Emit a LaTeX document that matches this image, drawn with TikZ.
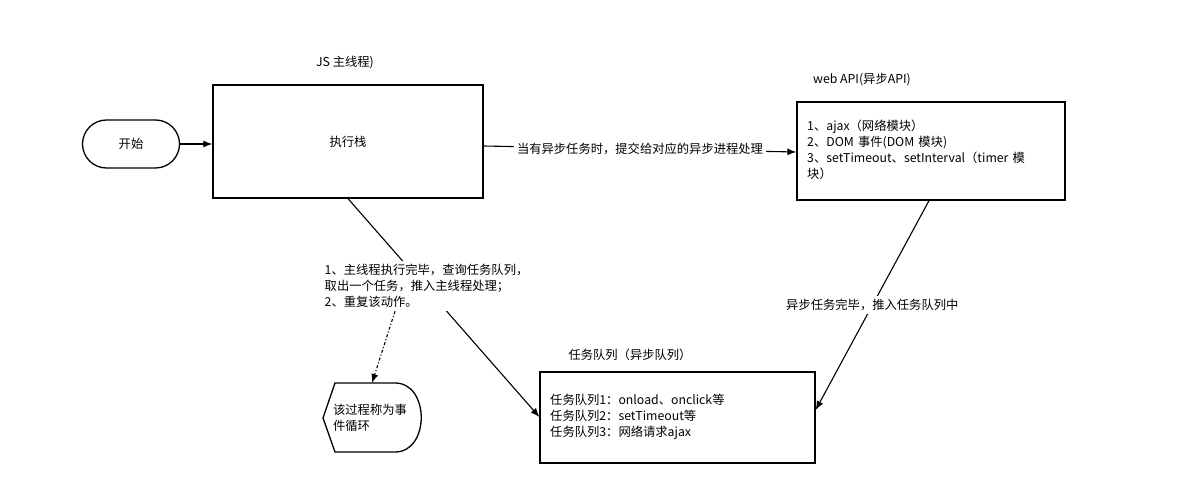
\documentclass[tikz,border=0pt]{standalone}
\usepackage{fontspec}
\setmainfont{Noto Sans CJK SC}
\usetikzlibrary{arrows.meta}
\begin{document}
\begin{tikzpicture}[x=1pt,y=-1pt,
  box/.style={draw,line width=1.3pt},
  conn/.style={line width=1.1pt,-{Latex[length=9pt,width=7pt]}},
  lbl/.style={font=\fontsize{12.3}{16}\selectfont,inner sep=1pt},
  every node/.style={font=\fontsize{12.3}{16}\selectfont}]
\useasboundingbox[fill=white] (0,0) rectangle (1191,481);
\node[box,rounded corners=24pt,minimum width=97pt,minimum height=48pt] (start) at (131,144) {开始};
\node[box,minimum width=270pt,minimum height=113pt] (main) at (348,141.5) {执行栈};
\node[lbl] (mainlbl) at (345,63) {JS 主线程)};
\node[box,minimum width=268pt,minimum height=98pt] (web) at (931,151) {};
\node[lbl] (weblbl) at (862,80) {web API(异步API)};
\node[lbl,align=left,anchor=north west,text width=250pt] (webtxt) at (806,119) {1、ajax（网络模块）\\2、DOM 事件(DOM 模块)\\3、setTimeout、setInterval（timer 模\\块）};
\node[box,minimum width=275pt,minimum height=91pt] (queue) at (677.5,417.5) {};
\node[lbl] (queuelbl) at (630,355) {任务队列（异步队列）};
\node[lbl,align=left,anchor=north west] (queuetxt) at (549,393) {任务队列1：onload、onclick等\\任务队列2：setTimeout等\\任务队列3：网络请求ajax};
\draw[line width=1.3pt] (335,383) -- (323,418) -- (335,452) -- (395,452) to[out=0,in=0,looseness=1.3] (395,383) -- cycle;
\node[lbl,align=left] (loop) at (370,418) {该过程称为事\\件循环};
\coordinate (loopin) at (372,383);
\draw[conn] (start) -- (main.west |- start);
\draw[conn] (main.east |- 0,146) -- node[lbl,fill=white,inner sep=3pt] (l1) {当有异步任务时，提交给对应的异步进程处理} (web.west |- 0,152);
\draw[conn] (web.south) ++(-2,0) -- node[lbl,fill=white,inner sep=3pt,pos=0.5] (l2) {异步任务完毕，推入任务队列中} (queue.east |- 0,410);
\draw[conn] (main.south) -- node[lbl,fill=white,align=left,inner sep=3pt,pos=0.4,xshift=2pt] (l3) {1、主线程执行完毕，查询任务队列，\\取出一个任务，推入主线程处理；\\2、重复该动作。} (queue.west |- 0,417);
\draw[conn,dash dot] (l3.south -| 395,0) -- (loopin);
\end{tikzpicture}
\end{document}
